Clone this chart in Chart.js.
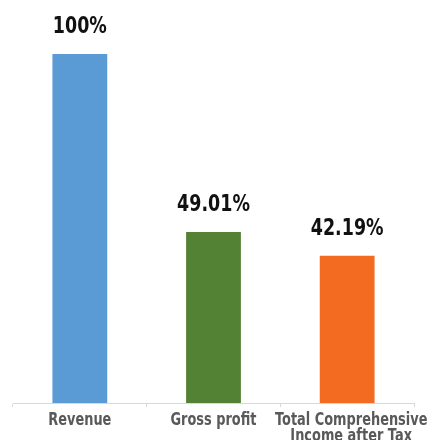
<!DOCTYPE html>
<html>
<head>
<meta charset="utf-8">
<script src="https://cdn.jsdelivr.net/npm/chart.js@4/dist/chart.umd.min.js"></script>
<style>
  html, body { margin: 0; padding: 0; background: #fff; }
  #wrap { width: 433px; height: 440px; position: relative; }
</style>
</head>
<body>
<div id="wrap"><canvas id="chart"></canvas></div>
<script>
const categories = ["Revenue", "Gross profit", ["Total Comprehensive", "Income after Tax"]];
const values = [100, 49.01, 42.19];
const valueLabels = ["100%", "49.01%", "42.19%"];
const barColors = ["#5b9bd5", "#548235", "#f26b21"];

const FONT = "'DejaVu Sans', sans-serif";

// condensed text: squeeze horizontally to mimic a narrow bold face
function narrowText(ctx, text, x, y, sx) {
  ctx.save();
  ctx.translate(x, y);
  ctx.scale(sx, 1);
  ctx.fillText(text, 0, 0);
  ctx.restore();
}

const labelPlugin = {
  id: "labels",
  afterDatasetsDraw(chart) {
    const ctx = chart.ctx;
    const meta = chart.getDatasetMeta(0);
    ctx.save();
    ctx.textAlign = "center";
    ctx.textBaseline = "middle";
    ctx.font = "bold 23px " + FONT;
    ctx.fillStyle = "#111";
    meta.data.forEach((bar, i) => {
      narrowText(ctx, valueLabels[i], bar.x, bar.y - 27, 0.76);
    });
    // category labels
    const xs = chart.scales.x;
    const base = chart.chartArea.bottom;
    ctx.font = "bold 17px " + FONT;
    ctx.fillStyle = "#595959";
    categories.forEach((c, i) => {
      const lines = Array.isArray(c) ? c : [c];
      const x = xs.getPixelForTick(i) + (lines.length > 1 ? 4 : 0);
      lines.forEach((ln, j) => {
        narrowText(ctx, ln, x, base + 18 + j * 16, 0.76);
      });
    });
    ctx.restore();
  }
};

new Chart(document.getElementById("chart"), {
  type: "bar",
  data: {
    labels: categories,
    datasets: [{
      data: values,
      backgroundColor: barColors,
      barPercentage: 0.41,
      categoryPercentage: 1
    }]
  },
  options: {
    responsive: true,
    maintainAspectRatio: false,
    animation: false,
    layout: { padding: { top: 54, left: 13, right: 19, bottom: 0 } },
    plugins: { legend: { display: false }, tooltip: { enabled: false } },
    scales: {
      x: {
        grid: { display: true, drawOnChartArea: false, color: "#d9d9d9", tickLength: 4, offset: true },
        border: { color: "#d9d9d9" },
        ticks: { display: false },
        afterFit(scale) { scale.height = 37; }
      },
      y: {
        display: false,
        min: 0,
        max: 100
      }
    }
  },
  plugins: [labelPlugin]
});
</script>
</body>
</html>
